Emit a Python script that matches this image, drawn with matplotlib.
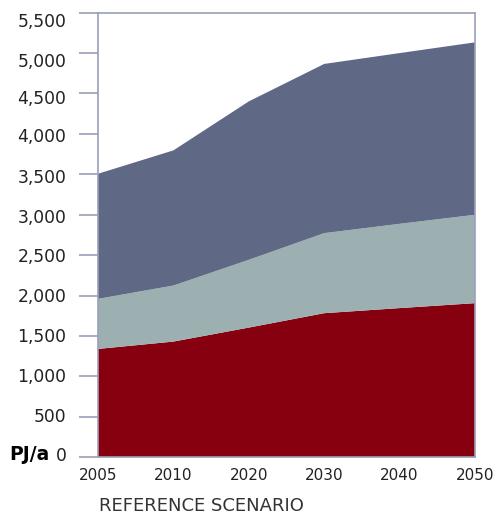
import matplotlib
matplotlib.use("Agg")
import matplotlib.pyplot as plt
import matplotlib.transforms as mtransforms
import numpy as np

years = ["2005", "2010", "2020", "2030", "2040", "2050"]
layer_bottom = [1340, 1431, 1604, 1782, 1845, 1906]
layer_middle = [619, 693, 838, 990, 1042, 1093]
layer_top = [1547, 1671, 1959, 2092, 2111, 2132]
y_ticks = [0, 500, 1000, 1500, 2000, 2500, 3000, 3500, 4000, 4500, 5000, 5500]
colors = ["#86000F", "#9CB0B1", "#5F6885"]
axis_color = "#9AA0B9"

fig = plt.figure(figsize=(4.97, 5.15), dpi=100)
ax = fig.add_axes([98/497, 1-457.3/515, (475-98)/497, (457.3-12.5)/515])

x = np.arange(len(years))
ax.stackplot(x, layer_bottom, layer_middle, layer_top, colors=colors, linewidth=0)

ax.set_xlim(0, len(years)-1)
ax.set_ylim(0, 5500)
ax.set_yticks(y_ticks)
ax.set_yticklabels([f"{v:,}" for v in y_ticks], fontsize=12.3, color="#222222")
ax.set_xticks(x)
ax.set_xticklabels(years, fontsize=11, color="#222222")
ax.tick_params(axis="y", length=13.7, width=1.2, color=axis_color, pad=9)
ax.tick_params(axis="x", length=0, pad=8)
for s in ax.spines.values():
    s.set_color(axis_color)
    s.set_linewidth(1.2)

# slight vertical drift of the y labels as in the original rendering (pixels, down)
shift_px = [-3, -1.6, -1, -1, -0.6, 0, 1, 1.6, 1.6, 4, 6.7, 7.5]
for lab, d in zip(ax.get_yticklabels(), shift_px):
    lab.set_transform(lab.get_transform() +
                      mtransforms.ScaledTranslation(0, -d / 100, fig.dpi_scale_trans))

fig.text(9/497, 1-454/515, "PJ/a", fontsize=13.5, fontweight="bold", color="black",
         ha="left", va="center")
fig.text(99/497, 1-506/515, "REFERENCE SCENARIO", fontsize=13, color="#333333",
         ha="left", va="center")

fig.savefig("out.png", dpi=100)
